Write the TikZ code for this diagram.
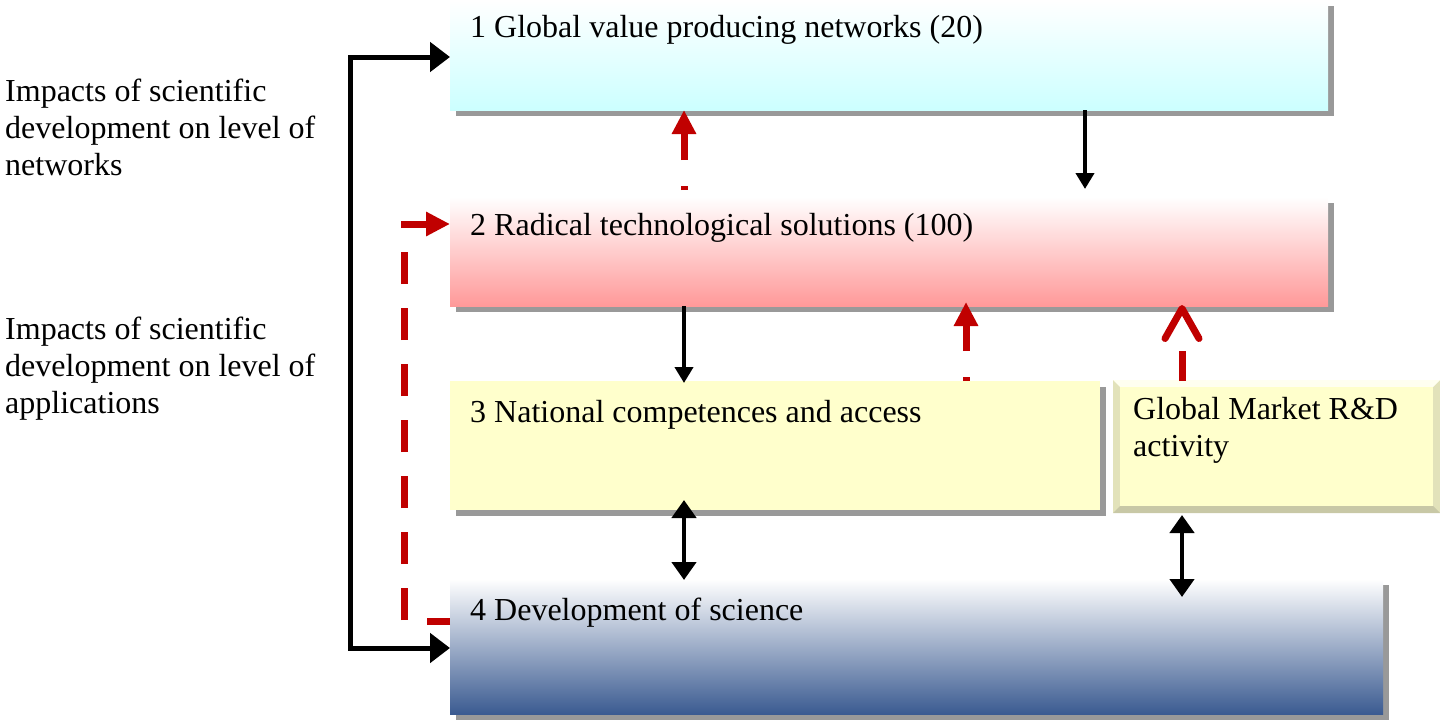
\documentclass[tikz,border=0pt]{standalone}
\usepackage{fontspec}
\setmainfont{Liberation Serif}
\usetikzlibrary{arrows.meta,shadows,calc}
\definecolor{cyanbot}{HTML}{CCFFFF}
\definecolor{pinkbot}{HTML}{FF9999}
\definecolor{bluebot}{HTML}{3B5B91}
\definecolor{yel}{HTML}{FFFFCC}
\definecolor{shadowgray}{HTML}{999999}
\definecolor{darkred}{HTML}{C00000}
\definecolor{gmedge}{HTML}{E2E2BA}
\definecolor{gmlight}{HTML}{FFFFF0}
\definecolor{gmdark}{HTML}{C8C8A6}
\begin{document}
\begin{tikzpicture}[x=1pt,y=-1pt,
  box/.style={rectangle, inner sep=0pt, outer sep=0pt, anchor=north west,
    drop shadow={shadow xshift=6pt, shadow yshift=-6pt, opacity=1, fill=shadowgray}},
  txt/.style={inner sep=0pt, anchor=base west, font=\fontsize{32}{37}\selectfont, align=left},
  blk/.style={draw=black, line width=5pt, {Triangle[length=20pt,width=29pt]}-{Triangle[length=20pt,width=29pt]}},
  bthin/.style={draw=black, line width=4.5pt, -{Triangle[length=16pt,width=18pt]}},
  bdbl/.style={draw=black, line width=4.5pt, {Triangle[length=18pt,width=24pt]}-{Triangle[length=18pt,width=24pt]}},
  rdash/.style={draw=darkred, line width=7pt, dash pattern=on 30pt off 26pt, dash phase=26pt, -{Triangle[length=24pt,width=23pt]}},
  rbarb/.style={draw=darkred, line width=7pt, dash pattern=on 30pt off 200pt, -{Straight Barb[length=30pt,width=34pt,line cap=round,line join=round]}},
  relbow/.style={draw=darkred, line width=7pt, dash pattern=on 32pt off 24pt, dash phase=9pt, -{Triangle[length=24pt,width=23pt]}}
]
\useasboundingbox (0,0) rectangle (1440,720);

% boxes
\node[box, minimum width=878pt, minimum height=110pt, top color=white, bottom color=cyanbot] (b1) at (450,0) {};
\node[box, minimum width=878pt, minimum height=109pt, top color=white, bottom color=pinkbot] (b2) at (450,197) {};
\node[box, minimum width=650pt, minimum height=129pt, fill=yel] (b3) at (450,381) {};
\node[box, minimum width=933pt, minimum height=135pt, top color=white, bottom color=bluebot] (b4) at (450,579) {};

% bevelled box
\node[rectangle, inner sep=0pt, outer sep=0pt, anchor=north west, minimum width=327pt, minimum height=133pt, fill=gmedge] (gm) at (1113,380) {};
\fill[gmlight] (gm.north west) -- (gm.north east) -- ($(gm.north east)+(-7,7)$) -- ($(gm.north west)+(7,7)$) -- cycle;
\fill[gmdark] (gm.south west) -- (gm.south east) -- ($(gm.south east)+(-7,-7)$) -- ($(gm.south west)+(7,-7)$) -- cycle;
\fill[yel] ($(gm.north west)+(7,7)$) rectangle ($(gm.south east)+(-7,-7)$);

% texts
\node[txt] (t1) at (470,37) {1 Global value producing networks (20)};
\node[txt] (t2) at (470,235) {2 Radical technological solutions (100)};
\node[txt] (t3) at (470,422) {3 National competences and access};
\node[txt] (t4) at (470,620) {4 Development of science};
\node[txt] (tg) at (1133,456) {Global Market R\&D\\activity};
\node[txt] (l1) at (5,175) {Impacts of scientific\\development on level of\\networks};
\node[txt] (l2) at (5,413) {Impacts of scientific\\development on level of\\applications};

% connectors
\draw[blk] ($(b1.north west)+(0,57)$) -- ++(-100,0) |- ($(b4.north west)+(0,69)$);
\draw[relbow] ($(b4.north west)+(0,42)$) -- ++(-46,0) |- ($(b2.north west)+(0,27)$);
\draw[rdash] ($(b2.north west)+(234,-7)$) -- ($(b1.south west)+(234,0)$);
\draw[bthin] ($(b1.south west)+(635,0)$) -- ($(b2.north west)+(635,-8)$);
\draw[bthin] ($(b2.south west)+(234,0)$) -- ($(b3.north west)+(234,2)$);
\draw[rdash] ($(b3.north west)+(516,0)$) -- ($(b2.south west)+(516,-4)$);
\draw[rbarb] ($(gm.north west)+(69,1)$) -- ($(b2.south west)+(732,-1)$);
\draw[bdbl] ($(b3.south west)+(234,-10)$) -- ($(b4.north west)+(234,1)$);
\draw[bdbl] ($(gm.south west)+(69,2)$) -- ($(b4.north west)+(732,18)$);
\end{tikzpicture}
\end{document}
